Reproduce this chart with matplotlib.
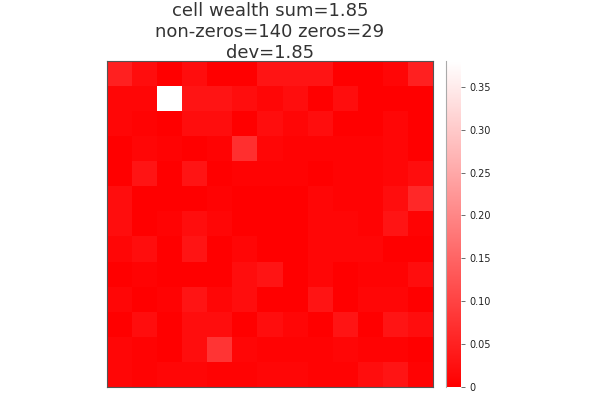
import numpy as np
import matplotlib
matplotlib.use("Agg")
import matplotlib.pyplot as plt
from matplotlib.colors import LinearSegmentedColormap

# cell wealth per grid cell, top row first
wealth = [
    [0.05, 0.02, 0, 0.02, 0, 0, 0.03, 0.03, 0.03, 0, 0, 0.01, 0.05],
    [0.01, 0.01, 0.38, 0.03, 0.03, 0.02, 0.01, 0.02, 0, 0.02, 0, 0, 0],
    [0.01, 0.005, 0, 0.02, 0.02, 0, 0.02, 0.01, 0.02, 0, 0, 0.01, 0],
    [0, 0.01, 0.005, 0, 0.005, 0.07, 0.01, 0.005, 0.005, 0.005, 0.005, 0.01, 0],
    [0, 0.03, 0, 0.03, 0, 0.005, 0.005, 0.005, 0, 0.005, 0.005, 0.01, 0.02],
    [0.02, 0, 0, 0, 0.005, 0, 0, 0, 0.01, 0.005, 0.005, 0.02, 0.06],
    [0.02, 0, 0.005, 0.02, 0.01, 0, 0, 0, 0.01, 0.01, 0.005, 0.03, 0.005],
    [0.01, 0.02, 0, 0.03, 0, 0.01, 0, 0, 0.01, 0.01, 0.01, 0, 0],
    [0, 0.005, 0, 0, 0, 0.02, 0.03, 0, 0.01, 0, 0.005, 0.005, 0.02],
    [0.01, 0, 0.005, 0.03, 0.01, 0.02, 0, 0, 0.03, 0, 0.01, 0.01, 0],
    [0, 0.02, 0, 0.02, 0.02, 0, 0.02, 0.01, 0, 0.03, 0, 0.03, 0.02],
    [0.01, 0.005, 0, 0.02, 0.08, 0.01, 0.005, 0.005, 0.005, 0.01, 0.005, 0.005, 0],
    [0.01, 0.005, 0.01, 0.01, 0.005, 0.005, 0.01, 0.01, 0.005, 0.005, 0.02, 0.03, 0.005],
]
cbar_ticks = [0, 0.05, 0.10, 0.15, 0.20, 0.25, 0.30, 0.35]
cbar_labels = ["0", "0.05", "0.10", "0.15", "0.20", "0.25", "0.30", "0.35"]
title = "cell wealth sum=1.85\nnon-zeros=140 zeros=29\ndev=1.85"

cmap = LinearSegmentedColormap.from_list("rw", ["#ff0000", "#ffffff"])

fig = plt.figure(figsize=(6, 4), dpi=100)
ax = fig.add_axes([0.178, 0.0325, 0.543, 0.815])
im = ax.imshow(np.array(wealth), cmap=cmap, vmin=0, vmax=0.38,
               interpolation="nearest", aspect="auto")
ax.set_xticks([])
ax.set_yticks([])
for s in ax.spines.values():
    s.set_color("#555555")
    s.set_linewidth(0.8)

cax = fig.add_axes([0.743, 0.0325, 0.025, 0.815])
cb = fig.colorbar(im, cax=cax)
cb.outline.set_visible(False)
cb.set_ticks(cbar_ticks)
cb.set_ticklabels(cbar_labels)
cax.tick_params(labelsize=7, length=3, width=0.6, color="#555555", labelcolor="#222222")
cax.spines["left"].set_visible(True)
cax.spines["left"].set_color("#aaaaaa")

fig.text(0.45, 0.995, title, ha="center", va="top", fontsize=13,
         color="#333333", linespacing=1.2)

fig.savefig("out.png", dpi=100)
